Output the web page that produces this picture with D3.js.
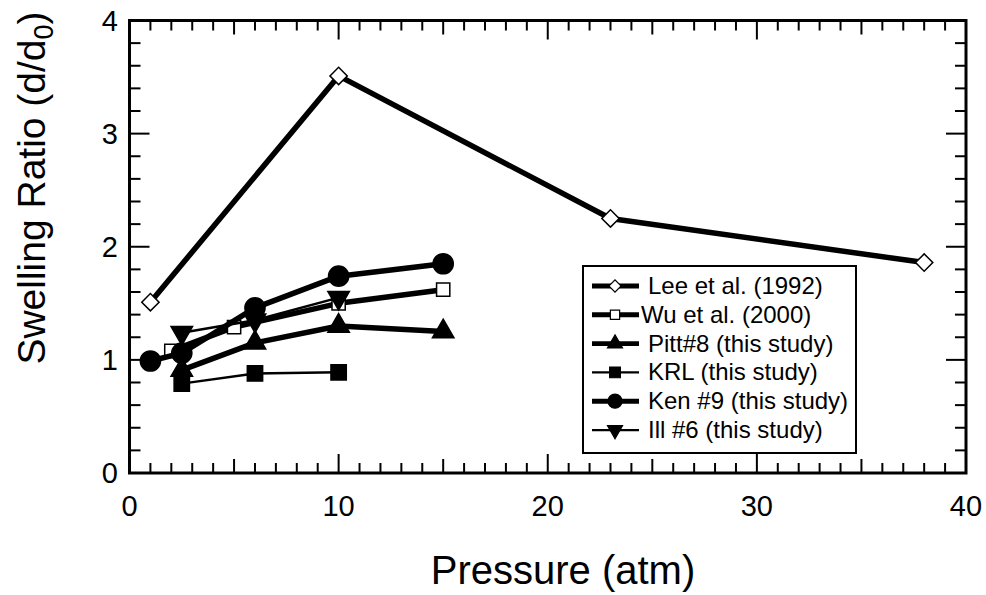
<!DOCTYPE html>
<html>
<head>
<meta charset="utf-8">
<script src="https://cdn.jsdelivr.net/npm/d3@7"></script>
<style>
  body { margin: 0; background: #fff; }
  text { font-family: "Liberation Sans", Arial, sans-serif; fill: #000; }
</style>
</head>
<body>
<svg id="chart" width="986" height="595"></svg>
<script>
// ── data ──
const xTicks = [0, 10, 20, 30, 40];
const yTicks = [0, 1, 2, 3, 4];

const leeP  = [1, 10, 23, 38];
const leeR  = [1.51, 3.51, 2.25, 1.86];
const wuP   = [2, 5, 10, 15];
const wuR   = [1.08, 1.29, 1.50, 1.62];
const pittP = [2.5, 6, 10, 15];
const pittR = [0.91, 1.15, 1.30, 1.25];
const krlP  = [2.5, 6, 10];
const krlR  = [0.79, 0.88, 0.89];
const kenP  = [1, 2.5, 6, 10, 15];
const kenR  = [0.99, 1.06, 1.46, 1.74, 1.85];
const illP  = [2.5, 6, 10];
const illR  = [1.24, 1.35, 1.55];

const names = ['Lee et al. (1992)', 'Wu et al. (2000)', 'Pitt#8 (this study)',
               'KRL (this study)', 'Ken #9 (this study)', 'Ill #6 (this study)'];

// style per series (marker, fill, line width)
const series = [
  { name: names[0], x: leeP,  y: leeR,  sym: 'diamond', fill: '#fff', lw: 5.5 },
  { name: names[1], x: wuP,   y: wuR,   sym: 'square',  fill: '#fff', lw: 5.5 },
  { name: names[2], x: pittP, y: pittR, sym: 'tri',     fill: '#000', lw: 5.5 },
  { name: names[3], x: krlP,  y: krlR,  sym: 'bsquare', fill: '#000', lw: 2.5 },
  { name: names[4], x: kenP,  y: kenR,  sym: 'circle',  fill: '#000', lw: 5.5 },
  { name: names[5], x: illP,  y: illR,  sym: 'tridown', fill: '#000', lw: 2.5 },
];

const L = 129.5, R = 966, T = 20.5, B = 473;
const x = d3.scaleLinear([0, 40], [L, R]);
const y = d3.scaleLinear([0, 4], [B, T]);

const svg = d3.select('#chart');

// marker path + rotation
function marker(sym, k) {
  const s = {
    diamond: [d3.symbolSquare, 150, 45],
    square:  [d3.symbolSquare, 175, 0],
    bsquare: [d3.symbolSquare, 235, 0],
    tri:     [d3.symbolTriangle, 200, 0],
    tridown: [d3.symbolTriangle, 200, 180],
    circle:  [d3.symbolCircle, 320, 0],
  }[sym];
  return { d: d3.symbol(s[0], s[1] * k * k)(), rot: s[2] };
}

// ── ticks (inward on all four sides) ──
const tk = svg.append('g').attr('stroke', '#000').attr('stroke-width', 2);
d3.range(0, 41).forEach(v => {
  const len = v % 10 === 0 ? 19 : v % 5 === 0 ? 14 : 10;
  if (v === 0 || v === 40) return;
  tk.append('line').attr('x1', x(v)).attr('x2', x(v)).attr('y1', B).attr('y2', B - len);
  tk.append('line').attr('x1', x(v)).attr('x2', x(v)).attr('y1', T).attr('y2', T + len);
});
d3.range(0, 21).forEach(i => {
  const v = i / 5;
  if (i === 0 || i === 20) return;
  const len = i % 5 === 0 ? 20 : 11;
  tk.append('line').attr('x1', L).attr('x2', L + len).attr('y1', y(v)).attr('y2', y(v));
  tk.append('line').attr('x1', R).attr('x2', R - len).attr('y1', y(v)).attr('y2', y(v));
});

// frame
svg.append('rect')
  .attr('x', L).attr('y', T).attr('width', R - L).attr('height', B - T)
  .attr('fill', 'none').attr('stroke', '#000').attr('stroke-width', 3);

// tick labels
svg.append('g').selectAll('text').data(xTicks).join('text')
  .attr('x', d => x(d)).attr('y', 516)
  .attr('text-anchor', 'middle').attr('font-size', 29)
  .text(d => d);
svg.append('g').selectAll('text').data(yTicks).join('text')
  .attr('x', 118).attr('y', d => y(d) + 10)
  .attr('text-anchor', 'end').attr('font-size', 29)
  .text(d => d);

// axis titles
svg.append('text')
  .attr('x', 563).attr('y', 584)
  .attr('text-anchor', 'middle').attr('font-size', 40)
  .text('Pressure (atm)');

const yt = svg.append('text')
  .attr('transform', 'translate(45,188) rotate(-90)')
  .attr('text-anchor', 'middle').attr('font-size', 39);
yt.append('tspan').text('Swelling Ratio (d/d');
yt.append('tspan').attr('font-size', 27).attr('dy', 8).text('0');
yt.append('tspan').attr('dy', -8).text(')');

// ── series ──
const line = d3.line();
series.forEach(s => {
  const pts = s.x.map((v, i) => [x(v), y(s.y[i])]);
  const g = svg.append('g');
  g.append('path').attr('d', line(pts))
    .attr('fill', 'none').attr('stroke', '#000').attr('stroke-width', s.lw)
    .attr('stroke-linejoin', 'round');
  const m = marker(s.sym, 1);
  g.selectAll('path.m').data(pts).join('path').attr('class', 'm')
    .attr('d', m.d)
    .attr('transform', d => `translate(${d[0]},${d[1]}) rotate(${m.rot})`)
    .attr('fill', s.fill).attr('stroke', '#000').attr('stroke-width', 1.5);
});

// ── legend ──
const lgX = 583, lgY = 266, lgW = 273, lgH = 187, rowH = 28.8;
svg.append('rect')
  .attr('x', lgX).attr('y', lgY).attr('width', lgW).attr('height', lgH)
  .attr('fill', '#fff').attr('stroke', '#000').attr('stroke-width', 2);

series.forEach((s, i) => {
  const cy = 286 + i * rowH;
  const g = svg.append('g');
  g.append('line').attr('x1', 592).attr('x2', 639).attr('y1', cy).attr('y2', cy)
    .attr('stroke', '#000').attr('stroke-width', s.lw * 0.9);
  const m = marker(s.sym, 0.7);
  g.append('path').attr('d', m.d)
    .attr('transform', `translate(615,${cy}) rotate(${m.rot})`)
    .attr('fill', s.fill).attr('stroke', '#000').attr('stroke-width', 1.2);
  g.append('text')
    .attr('x', i === 1 ? 641 : 648).attr('y', cy + 8)
    .attr('font-size', 24)
    .text(s.name);
});
</script>
</body>
</html>
